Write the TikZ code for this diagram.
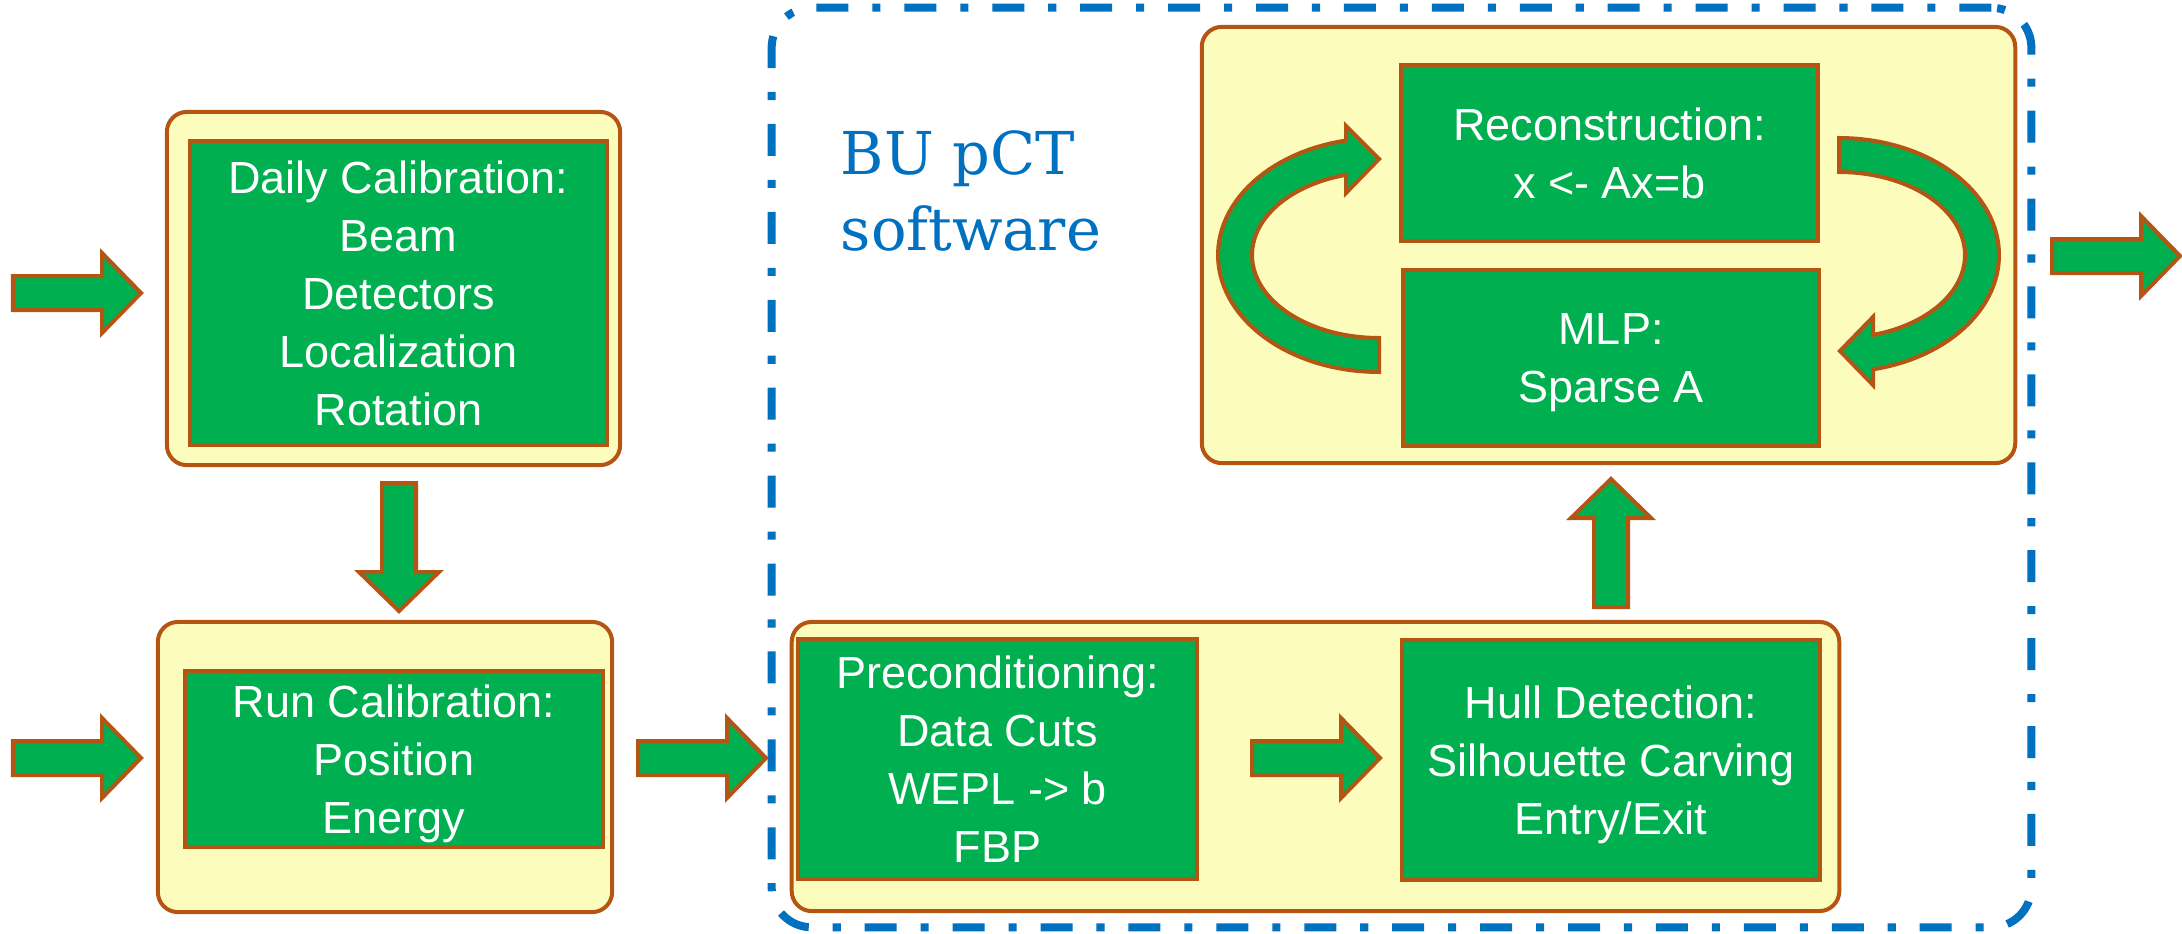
\documentclass[tikz,border=0pt]{standalone}
\usepackage{fontspec}
\setmainfont{Liberation Sans}
\newfontfamily\titlefont{DejaVu Serif}
\definecolor{boxgreen}{RGB}{0,176,80}
\definecolor{panelyellow}{RGB}{252,252,188}
\definecolor{edgebrown}{RGB}{180,85,20}
\definecolor{swblue}{RGB}{0,112,192}

\begin{document}
\begin{tikzpicture}[x=0.01cm,y=-0.01cm,
  panel/.style={draw=edgebrown, fill=panelyellow, line width=0.04cm, rounded corners=0.2cm, inner sep=0pt},
  stage/.style={draw=edgebrown, fill=boxgreen, line width=0.045cm, inner sep=0pt, text=white,
                align=center, text depth=0pt, font=\fontsize{12.8}{16.5}\selectfont},
  arrowline/.style={draw=edgebrown, fill=boxgreen, line width=0.04cm, line join=miter},
  softwareframe/.style={draw=swblue, line width=0.08cm, rounded corners=0.4cm,
                dash pattern=on 9.1pt off 6.8pt on 2.3pt off 6.8pt},
  blockarrow/.pic={\path[arrowline] (0,-17) -- (89,-17) -- (89,-40) -- (128,0) -- (89,40) -- (89,17) -- (0,17) -- cycle;},
]
\useasboundingbox (0,0) rectangle (2182,933);

% software boundary
\node[softwareframe, minimum width=12.59cm, minimum height=9.19cm] (frame) at (1401.5,467.5) {};

% calibration stages
\node[panel, minimum width=4.53cm, minimum height=3.53cm] (dailyPanel) at (393.5,288.5) {};
\node[stage, minimum width=4.17cm, minimum height=3.04cm] (daily) at (398.5,293)
  {Daily Calibration:\\Beam\\Detectors\\Localization\\Rotation};
\node[panel, minimum width=4.54cm, minimum height=2.90cm] (runPanel) at (385,767) {};
\node[stage, minimum width=4.18cm, minimum height=1.76cm] (run) at (394,759)
  {Run Calibration:\\Position\\Energy};

% preprocessing row
\node[panel, minimum width=10.47cm, minimum height=2.89cm] (lowerPanel) at (1315.5,766.5) {};
\node[stage, minimum width=3.99cm, minimum height=2.40cm] (prep) at (997.5,759)
  {Preconditioning:\\Data Cuts\\WEPL -> b\\FBP};
\node[stage, minimum width=4.18cm, minimum height=2.40cm] (hull) at (1611,760)
  {Hull Detection:\\Silhouette Carving\\Entry/Exit};

% iterative reconstruction loop
\node[panel, minimum width=8.13cm, minimum height=4.36cm] (upperPanel) at (1608.5,245) {};
\node[stage, minimum width=4.17cm, minimum height=1.76cm] (recon) at (1609.5,153)
  {Reconstruction:\\x <- Ax=b};
\node[stage, minimum width=4.16cm, minimum height=1.76cm] (mlp) at (1611,358)
  {MLP:\\Sparse A};

\node[anchor=north west, inner sep=0pt, text=swblue, align=left,
      font=\titlefont\fontsize{16.8}{21.6}\selectfont] (title) at (840,130) {BU pCT\\software};

% straight block arrows
\pic (inDaily) at (13,293) {blockarrow};
\pic (inRun) at (13,758) {blockarrow};
\pic (runToPrep) at (638,758) {blockarrow};
\pic (prepToHull) at (1252,758) {blockarrow};
\pic (output) at (2052,256) {blockarrow};
\pic[rotate=-90] (dailyToRun) at (399,483) {blockarrow};
\pic[rotate=90] (hullToLoop) at (1611,607) {blockarrow};

% curved loop arrows
\path[arrowline]
  plot[domain=90:258.2, samples=60] ({1379+161*cos(\x)},{255+117*sin(\x)})
  -- (1346,126) -- (1379,159) -- (1346,193)
  -- plot[domain=255:90, samples=60] ({1379+127*cos(\x)},{255+83*sin(\x)}) -- cycle;
\path[arrowline]
  plot[domain=-90:77.7, samples=60] ({1839+160*cos(\x)},{255+117*sin(\x)})
  -- (1873,385) -- (1840,351) -- (1873,317)
  -- plot[domain=74.3:-90, samples=60] ({1839+126*cos(\x)},{255+83*sin(\x)}) -- cycle;
\end{tikzpicture}
\end{document}
